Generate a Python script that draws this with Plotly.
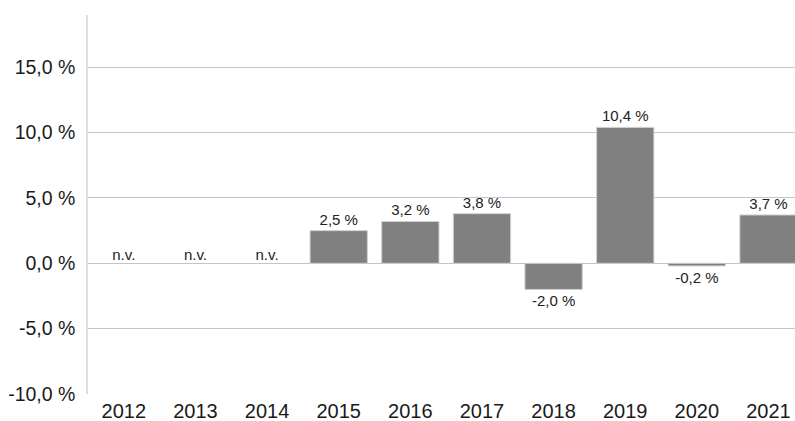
import plotly.graph_objects as go

years = ["2012", "2013", "2014", "2015", "2016", "2017", "2018", "2019", "2020", "2021"]
values = [None, None, None, 2.5, 3.2, 3.8, -2.0, 10.4, -0.2, 3.7]
na_label = "n.v."
ytick_vals = [-10, -5, 0, 5, 10, 15]

def fmt(v):
    return f"{v:.1f}".replace(".", ",") + " %"

bar_text = [fmt(v) if v is not None else "" for v in values]
na_x = [y for y, v in zip(years, values) if v is None]

FONT = "Liberation Sans, Arial"

fig = go.Figure()
fig.add_trace(go.Bar(
    x=years, y=values, text=bar_text, textposition="outside",
    textfont=dict(family=FONT, size=15, color="#222222"),
    marker=dict(color="#808080", line=dict(color="#d0d0d0", width=1)),
    width=0.8, cliponaxis=False, hoverinfo="skip",
))
fig.add_trace(go.Scatter(
    x=na_x, y=[0] * len(na_x), mode="text", text=[na_label] * len(na_x),
    textposition="top center",
    textfont=dict(family=FONT, size=15, color="#222222"),
    hoverinfo="skip",
))

fig.update_layout(
    width=795, height=421,
    margin=dict(l=88, r=0, t=15, b=27),
    paper_bgcolor="white", plot_bgcolor="white",
    showlegend=False,
    font=dict(family=FONT, color="#1a1a1a"),
    xaxis=dict(
        type="category", range=[-0.5, 9.37], showgrid=False,
        showline=False, zeroline=False, ticks="",
        tickfont=dict(size=20, color="#1a1a1a"), ticklabelstandoff=3,
    ),
    yaxis=dict(
        range=[-10, 19], tickvals=ytick_vals, ticktext=[fmt(v) for v in ytick_vals],
        showgrid=True, gridcolor="#c4c4c4", gridwidth=1,
        zeroline=True, zerolinecolor="#c4c4c4", zerolinewidth=1,
        showline=True, linecolor="#dedede", linewidth=1.5,
        ticks="", tickfont=dict(size=19.5, color="#1a1a1a"), ticklabelstandoff=7,
    ),
)

fig.write_html("out.html")
